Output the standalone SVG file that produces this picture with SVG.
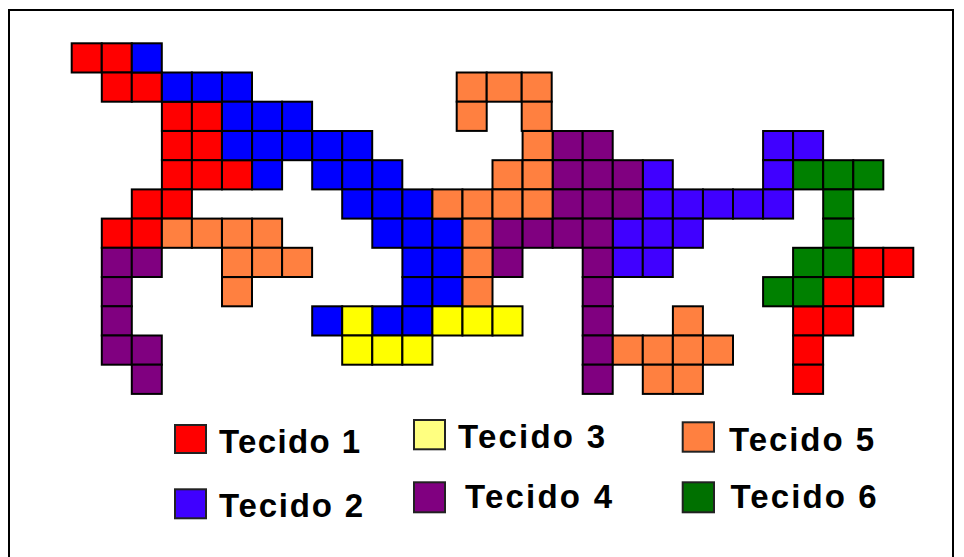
<svg xmlns="http://www.w3.org/2000/svg" width="964" height="557" viewBox="0 0 964 557">
<style>
rect.c{stroke:#000;stroke-width:2;height:29.2px;width:30px}
.R{fill:#ff0000}.B{fill:#0000ff}.B2{fill:#4000ff}.Y{fill:#ffff00}.P{fill:#800080}.O{fill:#ff8040}.G{fill:#008000}
.lg{stroke:#222;stroke-width:2}
text{font-family:"Liberation Sans",Arial,sans-serif;font-weight:bold;font-size:33px;fill:#000}
</style>
<rect width="964" height="557" fill="#fff"/>
<rect x="9" y="10" width="944" height="560" fill="none" stroke="#000" stroke-width="2"/>
<g id="tecido1">
<rect class="c R" x="71.7" y="43.3"/><rect class="c R" x="101.8" y="43.3"/>
<rect class="c R" x="101.8" y="72.5"/><rect class="c R" x="131.8" y="72.5"/>
<rect class="c R" x="161.9" y="101.7"/><rect class="c R" x="191.9" y="101.7"/>
<rect class="c R" x="161.9" y="131"/><rect class="c R" x="191.9" y="131"/>
<rect class="c R" x="161.9" y="160.2"/><rect class="c R" x="191.9" y="160.2"/><rect class="c R" x="222" y="160.2"/>
<rect class="c R" x="131.8" y="189.4"/><rect class="c R" x="161.9" y="189.4"/>
<rect class="c R" x="101.8" y="218.6"/><rect class="c R" x="131.8" y="218.6"/>
<rect class="c R" x="853.3" y="247.8"/><rect class="c R" x="883.3" y="247.8"/>
<rect class="c R" x="823.2" y="277.1"/><rect class="c R" x="853.3" y="277.1"/>
<rect class="c R" x="793.1" y="306.3"/><rect class="c R" x="823.2" y="306.3"/>
<rect class="c R" x="793.1" y="335.5"/>
<rect class="c R" x="793.1" y="364.7"/>
</g>
<g id="tecido2">
<rect class="c B" x="131.8" y="43.3"/>
<rect class="c B" x="161.9" y="72.5"/><rect class="c B" x="191.9" y="72.5"/><rect class="c B" x="222" y="72.5"/>
<rect class="c B" x="222" y="101.7"/><rect class="c B" x="252.1" y="101.7"/><rect class="c B" x="282.1" y="101.7"/>
<rect class="c B" x="222" y="131"/><rect class="c B" x="252.1" y="131"/><rect class="c B" x="282.1" y="131"/><rect class="c B" x="312.2" y="131"/><rect class="c B" x="342.2" y="131"/>
<rect class="c B" x="252.1" y="160.2"/><rect class="c B" x="312.2" y="160.2"/><rect class="c B" x="342.2" y="160.2"/><rect class="c B" x="372.3" y="160.2"/>
<rect class="c B" x="342.2" y="189.4"/><rect class="c B" x="372.3" y="189.4"/><rect class="c B" x="402.4" y="189.4"/>
<rect class="c B" x="372.3" y="218.6"/><rect class="c B" x="402.4" y="218.6"/><rect class="c B" x="432.4" y="218.6"/>
<rect class="c B" x="402.4" y="247.8"/><rect class="c B" x="432.4" y="247.8"/>
<rect class="c B" x="402.4" y="277.1"/><rect class="c B" x="432.4" y="277.1"/>
<rect class="c B" x="312.2" y="306.3"/><rect class="c B" x="372.3" y="306.3"/><rect class="c B" x="402.4" y="306.3"/>
<rect class="c B2" x="763.1" y="131"/><rect class="c B2" x="793.1" y="131"/>
<rect class="c B2" x="642.8" y="160.2"/><rect class="c B2" x="763.1" y="160.2"/>
<rect class="c B2" x="642.8" y="189.4"/><rect class="c B2" x="672.9" y="189.4"/><rect class="c B2" x="703" y="189.4"/><rect class="c B2" x="733" y="189.4"/><rect class="c B2" x="763.1" y="189.4"/>
<rect class="c B2" x="612.8" y="218.6"/><rect class="c B2" x="642.8" y="218.6"/><rect class="c B2" x="672.9" y="218.6"/>
<rect class="c B2" x="612.8" y="247.8"/><rect class="c B2" x="642.8" y="247.8"/>
</g>
<g id="tecido3">
<rect class="c Y" x="342.2" y="306.3"/><rect class="c Y" x="432.4" y="306.3"/><rect class="c Y" x="462.5" y="306.3"/><rect class="c Y" x="492.5" y="306.3"/>
<rect class="c Y" x="342.2" y="335.5"/><rect class="c Y" x="372.3" y="335.5"/><rect class="c Y" x="402.4" y="335.5"/>
</g>
<g id="tecido4">
<rect class="c P" x="552.7" y="131"/><rect class="c P" x="582.7" y="131"/>
<rect class="c P" x="552.7" y="160.2"/><rect class="c P" x="582.7" y="160.2"/><rect class="c P" x="612.8" y="160.2"/>
<rect class="c P" x="552.7" y="189.4"/><rect class="c P" x="582.7" y="189.4"/><rect class="c P" x="612.8" y="189.4"/>
<rect class="c P" x="492.5" y="218.6"/><rect class="c P" x="522.6" y="218.6"/><rect class="c P" x="552.7" y="218.6"/><rect class="c P" x="582.7" y="218.6"/>
<rect class="c P" x="101.8" y="247.8"/><rect class="c P" x="131.8" y="247.8"/><rect class="c P" x="492.5" y="247.8"/><rect class="c P" x="582.7" y="247.8"/>
<rect class="c P" x="101.8" y="277.1"/><rect class="c P" x="582.7" y="277.1"/>
<rect class="c P" x="101.8" y="306.3"/><rect class="c P" x="582.7" y="306.3"/>
<rect class="c P" x="101.8" y="335.5"/><rect class="c P" x="131.8" y="335.5"/><rect class="c P" x="582.7" y="335.5"/>
<rect class="c P" x="131.8" y="364.7"/><rect class="c P" x="582.7" y="364.7"/>
</g>
<g id="tecido5">
<rect class="c O" x="456.7" y="72.5"/><rect class="c O" x="486.7" y="72.5" style="width:35px"/><rect class="c O" x="521.7" y="72.5"/>
<rect class="c O" x="456.7" y="101.7"/><rect class="c O" x="521.7" y="101.7"/>
<rect class="c O" x="522.6" y="131"/>
<rect class="c O" x="492.5" y="160.2"/><rect class="c O" x="522.6" y="160.2"/>
<rect class="c O" x="432.4" y="189.4"/><rect class="c O" x="462.5" y="189.4"/><rect class="c O" x="492.5" y="189.4"/><rect class="c O" x="522.6" y="189.4"/>
<rect class="c O" x="161.9" y="218.6"/><rect class="c O" x="191.9" y="218.6"/><rect class="c O" x="222" y="218.6"/><rect class="c O" x="252.1" y="218.6"/><rect class="c O" x="462.5" y="218.6"/>
<rect class="c O" x="222" y="247.8"/><rect class="c O" x="252.1" y="247.8"/><rect class="c O" x="282.1" y="247.8"/><rect class="c O" x="462.5" y="247.8"/>
<rect class="c O" x="222" y="277.1"/><rect class="c O" x="462.5" y="277.1"/>
<rect class="c O" x="672.9" y="306.3"/>
<rect class="c O" x="612.8" y="335.5"/><rect class="c O" x="642.8" y="335.5"/><rect class="c O" x="672.9" y="335.5"/><rect class="c O" x="703" y="335.5"/>
<rect class="c O" x="642.8" y="364.7"/><rect class="c O" x="672.9" y="364.7"/>
</g>
<g id="tecido6">
<rect class="c G" x="793.1" y="160.2"/><rect class="c G" x="823.2" y="160.2"/><rect class="c G" x="853.3" y="160.2"/>
<rect class="c G" x="823.2" y="189.4"/>
<rect class="c G" x="823.2" y="218.6"/>
<rect class="c G" x="793.1" y="247.8"/><rect class="c G" x="823.2" y="247.8"/>
<rect class="c G" x="763.1" y="277.1"/><rect class="c G" x="793.1" y="277.1"/>
</g>
<g id="legend">
<g id="leg1"><rect class="lg" x="175" y="425" width="31" height="28" fill="#ff0000"/><text x="219" y="452.7" textLength="141" lengthAdjust="spacing">Tecido 1</text></g>
<g id="leg2"><rect class="lg" x="175" y="489.3" width="31" height="29" fill="#3f00ff"/><text x="219" y="517" textLength="144" lengthAdjust="spacing">Tecido 2</text></g>
<g id="leg3"><rect class="lg" x="414" y="420" width="31" height="29.3" fill="#ffff80"/><text x="458" y="447.7" textLength="147" lengthAdjust="spacing">Tecido 3</text></g>
<g id="leg4"><rect class="lg" x="414" y="482.3" width="31" height="30" fill="#800080"/><text x="465" y="508.3" textLength="147" lengthAdjust="spacing">Tecido 4</text></g>
<g id="leg5"><rect class="lg" x="682.7" y="422.3" width="31.3" height="29.4" fill="#ff8040"/><text x="729" y="450.7" textLength="145" lengthAdjust="spacing">Tecido 5</text></g>
<g id="leg6"><rect class="lg" x="682.7" y="482.3" width="31.3" height="30" fill="#007000"/><text x="730.5" y="508.3" textLength="146" lengthAdjust="spacing">Tecido 6</text></g>
</g>
</svg>
